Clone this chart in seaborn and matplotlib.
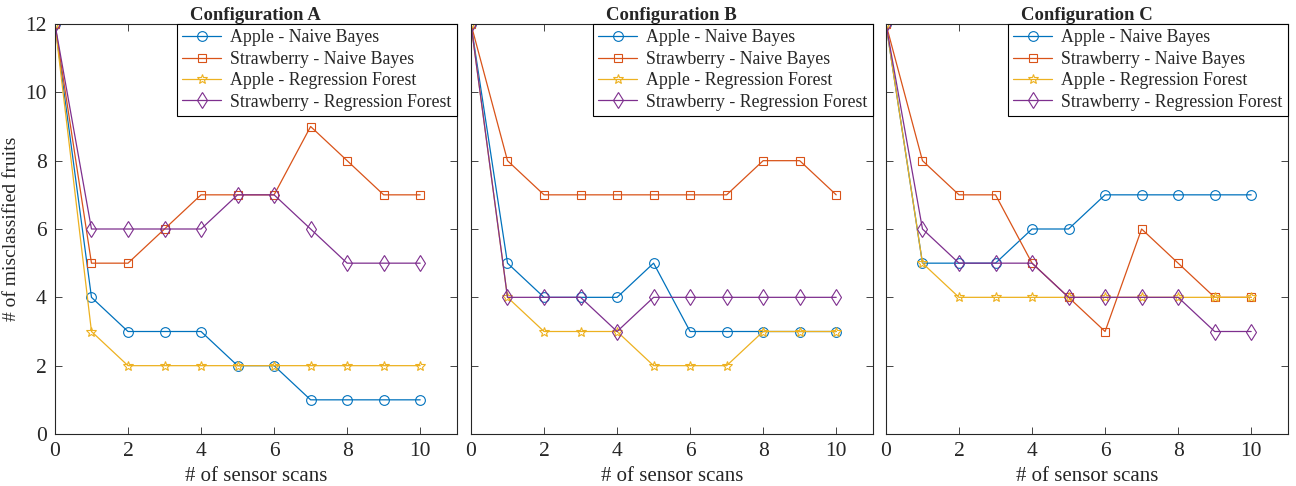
import numpy as np
import pandas as pd
import seaborn as sns
import matplotlib.pyplot as plt

scans = list(range(11))
configs = ["Configuration A", "Configuration B", "Configuration C"]
series_names = ["Apple - Naive Bayes", "Strawberry - Naive Bayes",
                "Apple - Regression Forest", "Strawberry - Regression Forest"]

# misclassified fruits per configuration, one list per series
config_a = [
    [12, 4, 3, 3, 3, 2, 2, 1, 1, 1, 1],
    [12, 5, 5, 6, 7, 7, 7, 9, 8, 7, 7],
    [12, 3, 2, 2, 2, 2, 2, 2, 2, 2, 2],
    [12, 6, 6, 6, 6, 7, 7, 6, 5, 5, 5],
]
config_b = [
    [12, 5, 4, 4, 4, 5, 3, 3, 3, 3, 3],
    [12, 8, 7, 7, 7, 7, 7, 7, 8, 8, 7],
    [12, 4, 3, 3, 3, 2, 2, 2, 3, 3, 3],
    [12, 4, 4, 4, 3, 4, 4, 4, 4, 4, 4],
]
config_c = [
    [12, 5, 5, 5, 6, 6, 7, 7, 7, 7, 7],
    [12, 8, 7, 7, 5, 4, 3, 6, 5, 4, 4],
    [12, 5, 4, 4, 4, 4, 4, 4, 4, 4, 4],
    [12, 6, 5, 5, 5, 4, 4, 4, 4, 3, 3],
]

colors = ["#0072BD", "#D95319", "#EDB120", "#7E2F8E"]
markers = ["o", "s", "*", "d"]
msizes = [7, 5.5, 7, 8]

sns.set_style("ticks")
plt.rcParams["font.family"] = ["Liberation Serif", "DejaVu Serif"]
plt.rcParams["font.size"] = 13

fig = plt.figure(figsize=(12.96, 4.86), dpi=100)
lefts = [0.0424, 0.3634, 0.6836]
axes = [fig.add_axes([l, 0.107, 0.31, 0.8436]) for l in lefts]

for ax, title, data in zip(axes, configs, [config_a, config_b, config_c]):
    for name, vals, c, m, ms in zip(series_names, data, colors, markers, msizes):
        df = pd.DataFrame({"scan": scans, "val": vals})
        sns.lineplot(data=df, x="scan", y="val", ax=ax, color=c, marker=m,
                     markersize=ms, markerfacecolor="none", markeredgecolor=c,
                     markeredgewidth=0.8, linewidth=0.9, label=name)
    ax.set_xlim(0, 11)
    ax.set_ylim(0, 12)
    ax.set_xticks(range(0, 11, 2))
    ax.set_yticks(range(0, 13, 2))
    ax.tick_params(direction="in", top=True, right=True, labelsize=15.5,
                   length=5, width=0.6, color="#262626", pad=6)
    for sp in ax.spines.values():
        sp.set_visible(True)
        sp.set_linewidth(0.8)
        sp.set_color("#262626")
    ax.set_title(title, fontweight="bold", fontsize=13.5, pad=3)
    ax.set_xlabel("# of sensor scans", fontsize=15, labelpad=4)
    ax.set_ylabel("")
    leg = ax.legend(loc="upper right", borderaxespad=0, fontsize=12.8,
                    fancybox=False, framealpha=1, handlelength=2.2,
                    labelspacing=0.25, borderpad=0.3, handletextpad=0.5)
    leg.get_frame().set_edgecolor("black")
    leg.get_frame().set_linewidth(0.8)

axes[0].set_ylabel("# of misclassified fruits", fontsize=14)
for ax in axes[1:]:
    ax.set_yticklabels([])

fig.savefig("out.png", dpi=100)
